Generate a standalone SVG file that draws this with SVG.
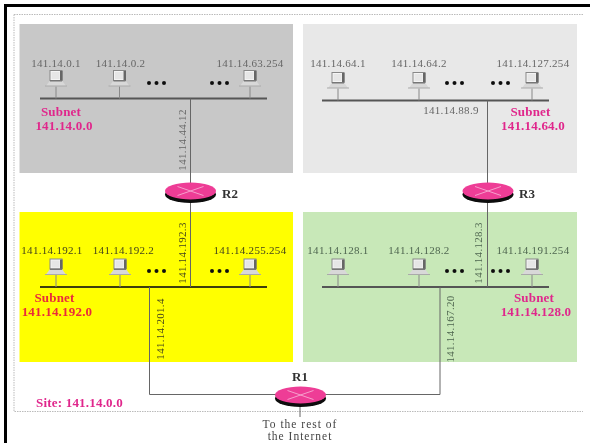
<svg xmlns="http://www.w3.org/2000/svg" xmlns:xlink="http://www.w3.org/1999/xlink" width="590" height="443" viewBox="0 0 590 443">
<style>
text{font-family:"Liberation Serif","Times New Roman",serif}
.ip{font-size:11px;fill:#666;text-anchor:middle;letter-spacing:.3px}
.ipd{font-size:11px;fill:#44441c;text-anchor:middle;letter-spacing:.3px}
.ipg{font-size:11px;fill:#4f6650;text-anchor:middle;letter-spacing:.3px}
.sub{font-size:13px;font-weight:bold;fill:#e0288c;text-anchor:middle;letter-spacing:.2px}
.subr{font-size:13px;font-weight:bold;fill:#ea2a3a;text-anchor:middle;letter-spacing:.2px}
.rl{font-size:13px;font-weight:bold;fill:#333}
.bus{stroke:#555;stroke-width:2;fill:none}
.busd{stroke:#3e3e10;stroke-width:2;fill:none}
.link{stroke:#666;stroke-width:1;fill:none}
.dots{fill:#111}
.note{font-size:11.500px;fill:#444;text-anchor:middle;letter-spacing:1px}
</style>
<defs>
<filter id="soft" x="-2%" y="-2%" width="104%" height="104%"><feGaussianBlur stdDeviation="0.5"/></filter>
<g id="host">
<line x1="0" y1="-12" x2="0" y2="0" stroke="#888" stroke-width="1"/>
<path d="M-6-18H6L10-12.500H-10Z" fill="#d8d8d8"/>
<line x1="-11" y1="-12.500" x2="11" y2="-12.500" stroke="#aaa" stroke-width="1"/>
<rect x="-6" y="-28" width="12" height="10" fill="#f4f4f4" stroke="#888" stroke-width="1"/>
<rect x="-4.500" y="-26.500" width="8" height="7" fill="#e6e6e6"/>
<rect x="4" y="-27.500" width="2.500" height="9.500" fill="#666"/>
<rect x="-6" y="-18.500" width="12" height="1.500" fill="#777"/>
</g>
<g id="router">
<ellipse cx="0" cy="3.500" rx="25.500" ry="8.500" fill="#0a0a0a"/>
<ellipse cx="0" cy="0" rx="25.500" ry="8.500" fill="#ee3c96"/>
<path d="M-13-4.500 13 4.500M-13 4.500 13-4.500" stroke="#f6a0cc" stroke-width="1" fill="none"/>
</g>
<g id="dots3" class="dots"><circle cx="0" cy="0" r="2"/><circle cx="7.500" cy="0" r="2"/><circle cx="15" cy="0" r="2"/></g>
</defs>
<rect width="590" height="443" fill="#fff"/>
<g filter="url(#soft)">
<g id="frame">
<path d="M5.500 443V5.500H590" fill="none" stroke="#000" stroke-width="3"/>
<path d="M14 14.500H583M14 14.500V411.500H583" fill="none" stroke="#bbb" stroke-width="1" stroke-dasharray="1.500 1"/>
</g>
<g id="panels">
<rect x="19.500" y="24" width="273.500" height="149" fill="#c8c8c8"/>
<rect x="303" y="24" width="274" height="149" fill="#e8e8e8"/>
<rect x="19.500" y="212" width="273.500" height="150" fill="#ffff00"/>
<rect x="303" y="212" width="274" height="150" fill="#c8e8b8"/>
</g>
<g id="connectors">
<path class="bus" d="M40 98.500H267"/>
<path class="bus" d="M322 100.500H549"/>
<path class="busd" d="M40 287H267"/>
<path class="bus" d="M322 287H549"/>
<path class="link" d="M190.500 98.500V287"/>
<path class="link" d="M487.500 100.500V287"/>
<path class="link" d="M149.500 287V394.500H290"/>
<path class="link" d="M440 287V394.500H310"/>
<path class="link" d="M300 400V417"/>
</g>
<g id="subnet-141-14-0-0">
<use href="#host" x="56" y="98.500"/><use href="#host" x="119.500" y="98.500"/><use href="#host" x="250" y="98.500"/>
<use href="#dots3" x="149" y="83"/><use href="#dots3" x="212" y="83"/>
<text class="ip" x="56" y="67">141.14.0.1</text>
<text class="ip" x="120.500" y="67">141.14.0.2</text>
<text class="ip" x="250" y="67">141.14.63.254</text>
<text class="sub" x="61" y="116">Subnet</text>
<text class="sub" x="64" y="130">141.14.0.0</text>
<text class="ip" transform="translate(186 140) rotate(-90)">141.14.44.12</text>
</g>
<g id="subnet-141-14-64-0">
<use href="#host" x="338" y="100.500"/><use href="#host" x="419" y="100.500"/><use href="#host" x="532" y="100.500"/>
<use href="#dots3" x="447" y="83"/><use href="#dots3" x="493" y="83"/>
<text class="ip" x="338" y="67">141.14.64.1</text>
<text class="ip" x="419" y="67">141.14.64.2</text>
<text class="ip" x="533" y="67">141.14.127.254</text>
<text class="ip" x="451" y="114">141.14.88.9</text>
<text class="sub" x="530.500" y="116">Subnet</text>
<text class="sub" x="533" y="130">141.14.64.0</text>
</g>
<g id="subnet-141-14-192-0">
<use href="#host" x="56" y="287"/><use href="#host" x="120" y="287"/><use href="#host" x="250" y="287"/>
<use href="#dots3" x="149" y="271"/><use href="#dots3" x="212" y="271"/>
<text class="ipd" x="52" y="254">141.14.192.1</text>
<text class="ipd" x="123.500" y="254">141.14.192.2</text>
<text class="ipd" x="250" y="254">141.14.255.254</text>
<text class="subr" x="54.500" y="302">Subnet</text>
<text class="subr" x="57" y="316">141.14.192.0</text>
<text class="ipd" transform="translate(186 253) rotate(-90)">141.14.192.3</text>
<text class="ipd" transform="translate(164 329) rotate(-90)">141.14.201.4</text>
</g>
<g id="subnet-141-14-128-0">
<use href="#host" x="338" y="287"/><use href="#host" x="419" y="287"/><use href="#host" x="532" y="287"/>
<use href="#dots3" x="447" y="271"/><use href="#dots3" x="493" y="271"/>
<text class="ipg" x="338" y="254">141.14.128.1</text>
<text class="ipg" x="419" y="254">141.14.128.2</text>
<text class="ipg" x="533" y="254">141.14.191.254</text>
<text class="sub" x="534" y="302">Subnet</text>
<text class="sub" x="536" y="316">141.14.128.0</text>
<text class="ipg" transform="translate(482 253) rotate(-90)">141.14.128.3</text>
<text class="ipg" transform="translate(454 329) rotate(-90)">141.14.167.20</text>
</g>
<g id="R2"><use href="#router" x="190.500" y="191"/><text class="rl" x="222" y="198">R2</text></g>
<g id="R3"><use href="#router" x="488" y="191"/><text class="rl" x="519" y="198">R3</text></g>
<g id="R1"><use href="#router" x="300.500" y="395"/><text class="rl" x="292" y="381">R1</text></g>
<g id="site-label"><text x="36" y="407" font-size="13" font-weight="bold" fill="#e0288c" letter-spacing=".2">Site: 141.14.0.0</text></g>
<g id="internet-label">
<text class="note" x="300" y="428">To the rest of</text>
<text class="note" x="300" y="440">the Internet</text>
</g>
</g>
</svg>
